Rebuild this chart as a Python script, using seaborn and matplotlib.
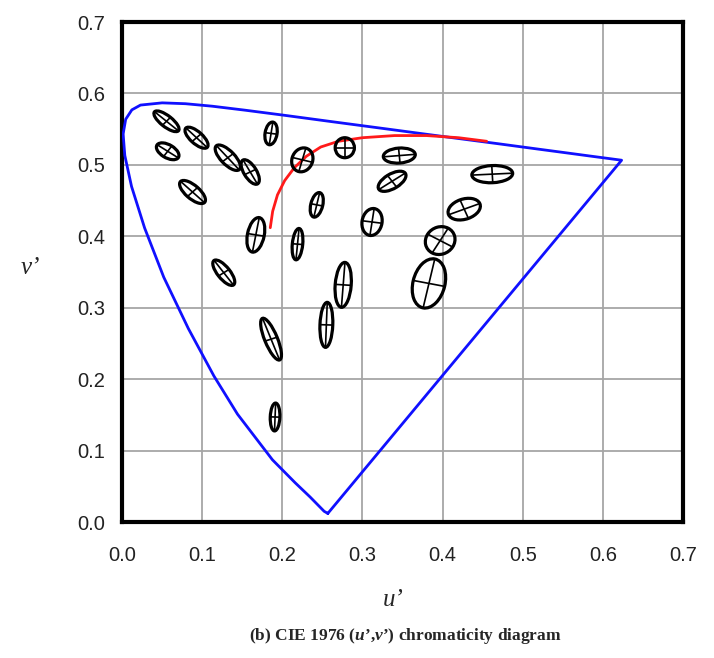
import numpy as np
import pandas as pd
import matplotlib
matplotlib.use("Agg")
import matplotlib.pyplot as plt
from matplotlib.patches import Ellipse
from matplotlib.ticker import MultipleLocator
import seaborn as sns

# Spectral locus (u', v') from 380 nm round to 700 nm, closed by the purple line
locus_u = [0.2568, 0.2522, 0.2347, 0.2161, 0.1877, 0.1441, 0.1147, 0.0828,
           0.0521, 0.0282, 0.0119, 0.0035, 0.0014, 0.0046, 0.0123, 0.0231,
           0.0501, 0.0792, 0.1127, 0.1531, 0.2026, 0.2623, 0.3315, 0.4035,
           0.4692, 0.5203, 0.5565, 0.5830, 0.6005, 0.6234, 0.2568]
locus_v = [0.0120, 0.0150, 0.0350, 0.0549, 0.0871, 0.1510, 0.2044, 0.2708,
           0.3427, 0.4117, 0.4698, 0.5131, 0.5432, 0.5638, 0.5770, 0.5837,
           0.5868, 0.5856, 0.5821, 0.5766, 0.5694, 0.5604, 0.5501, 0.5393,
           0.5296, 0.5219, 0.5165, 0.5125, 0.5099, 0.5065, 0.0120]

# Planckian (black-body) locus
planck_u = [0.185, 0.188, 0.194, 0.203, 0.215, 0.230, 0.248, 0.270,
            0.300, 0.340, 0.380, 0.420, 0.455]
planck_v = [0.412, 0.435, 0.458, 0.478, 0.496, 0.512, 0.525, 0.533,
            0.538, 0.541, 0.541, 0.538, 0.533]

# MacAdam ellipses: centre, semi-axes and orientation (degrees)
ell_u = [0.0555, 0.093, 0.057, 0.132, 0.160, 0.088, 0.186, 0.225, 0.278, 0.346,
         0.337, 0.243, 0.462, 0.427, 0.397, 0.312, 0.383, 0.276, 0.255, 0.167,
         0.219, 0.127, 0.186, 0.191]
ell_v = [0.561, 0.538, 0.519, 0.510, 0.490, 0.462, 0.544, 0.507, 0.524, 0.513,
         0.477, 0.444, 0.487, 0.438, 0.394, 0.420, 0.334, 0.332, 0.276, 0.402,
         0.389, 0.349, 0.256, 0.147]
ell_a = [0.020, 0.019, 0.016, 0.022, 0.019, 0.021, 0.016, 0.017, 0.014, 0.020,
         0.020, 0.0175, 0.0255, 0.021, 0.020, 0.019, 0.035, 0.0315, 0.0315, 0.0245,
         0.022, 0.021, 0.031, 0.0195]
ell_b = [0.0075, 0.008, 0.009, 0.009, 0.008, 0.009, 0.0075, 0.013, 0.012, 0.0105,
         0.010, 0.0075, 0.012, 0.014, 0.018, 0.0125, 0.020, 0.010, 0.008, 0.0105,
         0.0065, 0.008, 0.008, 0.006]
ell_ang = [-42, -46, -35, -50, -62, -45, 82, 75, 90, 5,
           35, 78, 3, 22, 60, 82, 78, 86, 88, 80,
           85, -55, -70, 88]

ticks = [0.0, 0.1, 0.2, 0.3, 0.4, 0.5, 0.6, 0.7]
tick_labels = ["0.0", "0.1", "0.2", "0.3", "0.4", "0.5", "0.6", "0.7"]

sns.set_style("white")
plt.rcParams["font.family"] = ["Liberation Sans", "DejaVu Sans"]
plt.rcParams["mathtext.fontset"] = "custom"
plt.rcParams["mathtext.it"] = "Liberation Serif:italic:bold"
plt.rcParams["mathtext.rm"] = "Liberation Serif:bold"

fig = plt.figure(figsize=(7.14, 6.58), dpi=100)
ax = fig.add_axes([122 / 714, 1 - 522 / 658, 561 / 714, 500 / 658])

locus = pd.DataFrame({"u": locus_u, "v": locus_v})
planck = pd.DataFrame({"u": planck_u, "v": planck_v})

sns.lineplot(data=locus, x="u", y="v", sort=False, estimator=None,
             color="#1010ff", lw=2.0, ax=ax, zorder=3)
sns.lineplot(data=planck, x="u", y="v", sort=False, estimator=None,
             color="#ff1a1a", lw=2.0, ax=ax, zorder=4)

for u, v, a, b, ang in zip(ell_u, ell_v, ell_a, ell_b, ell_ang):
    ax.add_patch(Ellipse((u, v), 2 * a, 2 * b, angle=ang, fill=False,
                         ec="black", lw=2.3, zorder=5))
    t = np.deg2rad(ang)
    ax.plot([u - a * np.cos(t), u + a * np.cos(t)],
            [v - a * np.sin(t), v + a * np.sin(t)], color="black", lw=1.2, zorder=5)
    ax.plot([u + b * np.sin(t), u - b * np.sin(t)],
            [v - b * np.cos(t), v + b * np.cos(t)], color="black", lw=1.2, zorder=5)

ax.set_xlim(0, 0.7)
ax.set_ylim(0, 0.7)
ax.set_xticks(ticks)
ax.set_yticks(ticks)
ax.set_xticklabels(tick_labels)
ax.set_yticklabels(tick_labels)
ax.xaxis.set_minor_locator(MultipleLocator(0.02))
ax.yaxis.set_minor_locator(MultipleLocator(0.02))
ax.grid(True, which="major", color="#a6a6a6", lw=1.3, zorder=0)
ax.set_axisbelow(True)

ax.tick_params(axis="both", which="major", direction="in", length=0,
               labelsize=14.5, labelcolor="#222222")
ax.tick_params(axis="x", which="major", pad=17)
ax.tick_params(axis="y", which="major", pad=12)
ax.tick_params(axis="both", which="minor", direction="in", length=6.5, width=1.4,
               color="black")
ax.tick_params(top=False, right=False, which="both")

for s in ax.spines.values():
    s.set_visible(True)
    s.set_color("black")
    s.set_linewidth(3.0)

ax.set_xlabel("")
ax.set_ylabel("")
fig.text(393 / 714, 1 - 600 / 658, "u’", family="Liberation Serif",
         style="italic", fontsize=18, ha="center", va="center")
fig.text(30 / 714, 1 - 268 / 658, "v’", family="Liberation Serif",
         style="italic", fontsize=18, ha="center", va="center")
fig.text(405 / 714, 1 - 636 / 658, "(b) CIE 1976 ($u$’,$v$’) chromaticity diagram",
         family="Liberation Serif", weight="bold", fontsize=12.5,
         ha="center", va="center")

fig.savefig("out.png", dpi=100)
